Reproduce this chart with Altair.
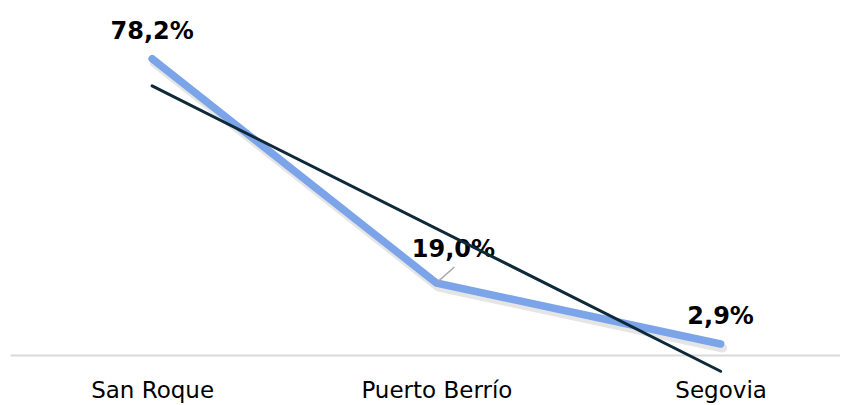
import altair as alt
import pandas as pd

categories = ["San Roque", "Puerto Berrío", "Segovia"]
values = [78.2, 19.0, 2.9]
labels = ["78,2%", "19,0%", "2,9%"]

df = pd.DataFrame({
    "idx": list(range(len(categories))),
    "cat": categories,
    "val": values,
    "lab": labels,
})

label_expr = "[" + ",".join("'" + c + "'" for c in categories) + "][datum.value]"

FONT = "DejaVu Sans"

x = alt.X("idx:Q", scale=alt.Scale(domain=[-0.5, 2.42], nice=False, zero=False),
          axis=alt.Axis(values=[0, 1, 2], labelExpr=label_expr, title=None, grid=False,
                        ticks=False, tickSize=0, labelPadding=42, labelBaseline="alphabetic",
                        labelFont=FONT, labelFontSize=23, labelColor="#000000",
                        domainColor="#D9D9D9", domainWidth=2, labelFlush=False))
y = alt.Y("val:Q", scale=alt.Scale(domain=[0, 90], nice=False),
          axis=None)

base = alt.Chart(df)

shadow = base.mark_line(color="#000000", opacity=0.10, strokeWidth=9, strokeCap="round",
                        strokeJoin="round", yOffset=4, xOffset=2).encode(x=x, y=y)
line = base.mark_line(color="#7BA4E9", strokeWidth=7.5, strokeCap="round",
                      strokeJoin="round").encode(x=x, y=y)

txt_main = base.transform_filter(alt.datum.idx != 1).mark_text(
    font=FONT, fontSize=24, fontWeight="bold", color="#000000",
    baseline="alphabetic", dy=-20).encode(x=x, y=y, text="lab:N")
txt_mid = base.transform_filter(alt.datum.idx == 1).mark_text(
    font=FONT, fontSize=24, fontWeight="bold", color="#000000",
    baseline="alphabetic", dx=17, dy=-26).encode(x=x, y=y, text="lab:N")
leader = base.transform_filter(alt.datum.idx == 1).mark_rule(
    color="#A6A6A6", strokeWidth=1.5, x2Offset=18, y2Offset=-16).encode(
    x=x, y=y, x2="idx:Q", y2="val:Q")

trend = base.transform_regression("idx", "val", extent=[0, 2]).mark_line(
    color="#0E2A3A", strokeWidth=3, strokeCap="round").encode(x=x, y=y)

chart = alt.layer(shadow, line, leader, txt_main, txt_mid, trend).properties(
    width=830, height=341,
    autosize=alt.AutoSizeParams(type="none"),
    padding={"left": 2, "top": 6, "right": 0, "bottom": 50},
).configure_view(stroke=None)

chart.save("out.html", embed_options={"renderer": "svg", "actions": False})
